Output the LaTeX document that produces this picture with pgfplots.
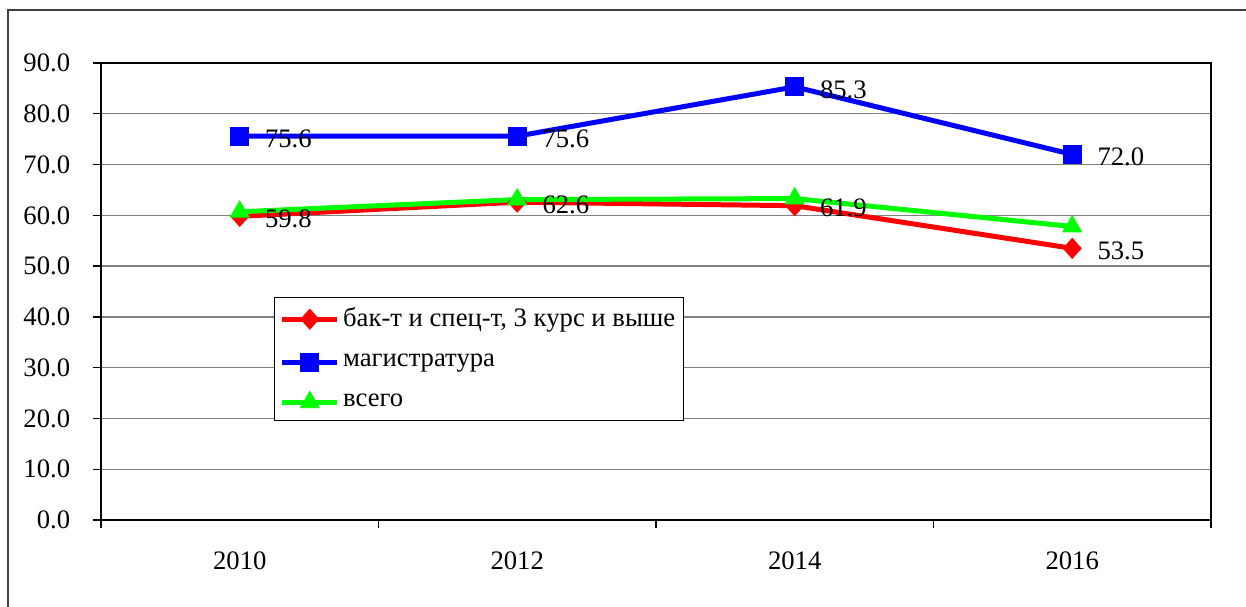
\documentclass[border=0pt]{standalone}
\usepackage{fontspec}
\setmainfont{Liberation Serif}
\usepackage{pgfplots}
\pgfplotsset{compat=1.18}
\definecolor{gridgray}{RGB}{128,128,128}
\begin{document}
\fontsize{16}{19}\selectfont
\begin{tikzpicture}
\path[use as bounding box] (0,0) rectangle (747.6pt,364.2pt);
\draw[black!75, line width=0.9pt] (4.8pt,-5pt) -- (4.8pt,358.2pt) -- (760pt,358.2pt);
\begin{axis}[
  at={(60.6pt,52.2pt)}, anchor=south west,
  scale only axis, width=666pt, height=274.2pt,
  xmin=2009, xmax=2017, ymin=0, ymax=90,
  xtick={2010,2012,2014,2016},
  xticklabels={2010,2012,2014,2016},
  minor xtick={2009,2011,2013,2015,2017},
  ytick={0,10,...,90},
  tick align=outside, xtick pos=bottom, ytick pos=left,
  major x tick style={draw=none},
  minor x tick style={black, line width=0.8pt},
  y tick style={black, line width=0.8pt},
  major tick length=5pt, minor tick length=5pt,
  ymajorgrids,
  major grid style={gridgray, line width=0.8pt},
  axis line style={black, line width=0.9pt},
  yticklabel style={/pgf/number format/.cd, fixed, fixed zerofill, precision=1, assume math mode=true, /tikz/.cd, xshift=-8pt},
  xticklabel style={yshift=-8.5pt},
  clip=false,
  legend style={at={(0.156,0.488)}, anchor=north west, draw=black, line width=0.8pt,
    row sep=10pt, inner xsep=3pt, inner ysep=4pt,
    nodes={inner xsep=2pt}, font=\fontsize{16}{19}\selectfont},
  legend cell align=left,
  legend image code/.code={\draw[mark repeat=2,mark phase=2] plot coordinates {(0pt,0pt)(16.5pt,0pt)(33pt,0pt)};},
  every node near coord/.style={anchor=west, xshift=9.6pt, yshift=-1.5pt, black,
    /pgf/number format/.cd, fixed, fixed zerofill, precision=1, assume math mode=true},
]
\addplot[color={rgb,255:red,255;green,0;blue,0}, line width=3pt, mark=diamond*, mark size=6pt,
  mark options={solid, line width=0.5pt, xscale=1.2}, nodes near coords]
  coordinates {(2010,59.8) (2012,62.6) (2014,61.9) (2016,53.5)};
\addlegendentry{бак-т и спец-т, 3 курс и выше}
\addplot[color={rgb,255:red,0;green,0;blue,255}, line width=3pt, mark=square*, mark size=5.4pt,
  mark options={solid, line width=0.5pt}, nodes near coords]
  coordinates {(2010,75.6) (2012,75.6) (2014,85.3) (2016,72.0)};
\addlegendentry{магистратура}
\addplot[color={rgb,255:red,0;green,255;blue,0}, line width=3pt, mark=triangle*, mark size=6.5pt,
  mark options={solid, line width=0.5pt}]
  coordinates {(2010,60.7) (2012,63.1) (2014,63.3) (2016,57.8)};
\addlegendentry{всего}
\end{axis}
\end{tikzpicture}
\end{document}
